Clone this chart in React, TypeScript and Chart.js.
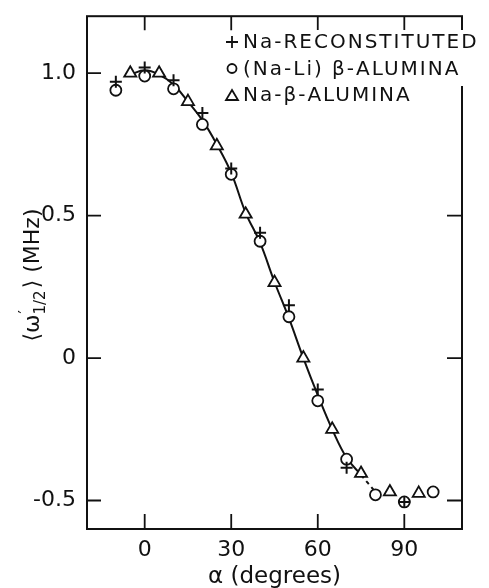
import React, { useEffect, useRef } from 'react';
import { Chart, registerables } from 'chart.js';

Chart.register(...registerables);

// ---- data ----
const plusX = [-10, 0, 10, 20, 30, 40, 50, 60, 70, 90];
const plusY = [0.97, 1.02, 0.975, 0.86, 0.665, 0.44, 0.185, -0.11, -0.385, -0.505];

const circleX = [-10, 0, 10, 20, 30, 40, 50, 60, 70, 80, 90, 100];
const circleY = [0.94, 0.99, 0.945, 0.82, 0.645, 0.41, 0.145, -0.15, -0.355, -0.48, -0.505, -0.47];

const triX = [-5, 5, 15, 25, 35, 45, 55, 65, 75, 85, 95];
const triY = [1.0, 1.0, 0.9, 0.745, 0.505, 0.265, 0.0, -0.25, -0.405, -0.47, -0.475];

const curveX = [-5, 0, 5, 10, 15, 20, 25, 30, 35, 40, 45, 50, 55, 60, 65, 70, 75, 80];
const curveY = [0.995, 1.01, 0.995, 0.96, 0.9, 0.835, 0.75, 0.65, 0.51, 0.405, 0.267, 0.14, 0.0, -0.13, -0.25, -0.35, -0.41, -0.47];
const dashedFrom = 75;

const xTicks = [0, 30, 60, 90];
const yTicks = [-0.5, 0, 0.5, 1.0];
const xTitle = 'α (degrees)';
const legendLabels = ['Na-RECONSTITUTED', '(Na-Li) β-ALUMINA', 'Na-β-ALUMINA'];

const FONT = '"DejaVu Sans", "Liberation Sans", sans-serif';
const INK = '#111';

const pts = (xs: number[], ys: number[]) => xs.map((x, i) => ({ x, y: ys[i] }));

const framePlugin = {
  id: 'frame',
  beforeDatasetsDraw(chart: any) {
    const { ctx, chartArea: a, scales } = chart;
    const x = scales.x;
    const y = scales.y;
    ctx.save();
    ctx.strokeStyle = INK;
    ctx.lineWidth = 2;
    ctx.strokeRect(a.left, a.top, a.right - a.left, a.bottom - a.top);
    ctx.lineWidth = 1.8;
    ctx.beginPath();
    xTicks.forEach((v) => {
      const px = x.getPixelForValue(v);
      ctx.moveTo(px, a.bottom);
      ctx.lineTo(px, a.bottom - 15);
      ctx.moveTo(px, a.top);
      ctx.lineTo(px, a.top + 14);
    });
    yTicks.forEach((v) => {
      const py = y.getPixelForValue(v);
      ctx.moveTo(a.left, py);
      ctx.lineTo(a.left + 14, py);
      ctx.moveTo(a.right, py);
      ctx.lineTo(a.right - 15, py);
    });
    ctx.stroke();

    // x title
    ctx.fillStyle = INK;
    ctx.font = `23px ${FONT}`;
    ctx.textAlign = 'center';
    ctx.textBaseline = 'middle';
    ctx.fillText(xTitle, (a.left + a.right) / 2, 577);

    // y title  <ω'_{1/2}> (MHz)
    ctx.save();
    ctx.translate(31, 275);
    ctx.rotate(-Math.PI / 2);
    const main = `22px ${FONT}`;
    const small = `15px ${FONT}`;
    ctx.textAlign = 'left';
    ctx.textBaseline = 'alphabetic';
    ctx.font = main;
    const w1 = ctx.measureText('⟨ω').width;
    const w3 = ctx.measureText('⟩ (MHz)').width;
    ctx.font = small;
    const w2 = Math.max(ctx.measureText('1/2').width, ctx.measureText('′').width);
    const x0 = -(w1 + w2 + w3 + 2) / 2;
    const base = 8;
    ctx.font = main;
    ctx.fillText('⟨ω', x0, base);
    ctx.font = small;
    ctx.fillText('′', x0 + w1 + 1, base - 9);
    ctx.fillText('1/2', x0 + w1, base + 6);
    ctx.font = main;
    ctx.fillText('⟩ (MHz)', x0 + w1 + w2 + 2, base);
    ctx.restore();

    ctx.restore();
  },
};

const legendPlugin = {
  id: 'customLegend',
  afterDraw(chart: any) {
    const { ctx } = chart;
    const symX = 232;
    const textX = 243;
    const top = 42;
    const gap = 26.5;
    ctx.save();
    ctx.fillStyle = '#fff';
    ctx.fillRect(textX - 2, 30, 245, 56);
    ctx.strokeStyle = INK;
    ctx.fillStyle = INK;
    ctx.lineWidth = 1.8;
    // plus
    let cy = top;
    ctx.beginPath();
    ctx.moveTo(symX - 6, cy);
    ctx.lineTo(symX + 6, cy);
    ctx.moveTo(symX, cy - 6);
    ctx.lineTo(symX, cy + 6);
    ctx.stroke();
    // circle
    cy = top + gap;
    ctx.beginPath();
    ctx.arc(symX, cy, 4.5, 0, Math.PI * 2);
    ctx.stroke();
    // triangle
    cy = top + 2 * gap;
    ctx.beginPath();
    ctx.moveTo(symX, cy - 5);
    ctx.lineTo(symX + 6, cy + 5);
    ctx.lineTo(symX - 6, cy + 5);
    ctx.closePath();
    ctx.stroke();

    ctx.font = `20px ${FONT}`;
    ctx.textAlign = 'left';
    ctx.textBaseline = 'middle';
    (ctx as any).letterSpacing = '2px';
    legendLabels.forEach((t, i) => {
      ctx.fillText(t, textX, top + i * gap + 1);
    });
    (ctx as any).letterSpacing = '0px';
    ctx.restore();
  },
};

export default function App() {
  const ref = useRef<HTMLCanvasElement | null>(null);

  useEffect(() => {
    document.body.style.margin = '0';
    document.body.style.background = '#fff';
    const canvas = ref.current;
    if (!canvas) return;
    const chart = new Chart(canvas, {
      type: 'scatter',
      data: {
        datasets: [
          {
            type: 'line',
            label: 'curve',
            data: pts(curveX, curveY),
            borderColor: INK,
            borderWidth: 2,
            pointRadius: 0,
            fill: false,
            tension: 0.4,
            order: 10,
            segment: {
              borderDash: (c: any) => (c.p0.parsed.x >= dashedFrom ? [4, 4] : undefined),
            },
          } as any,
          {
            label: legendLabels[0],
            data: pts(plusX, plusY),
            pointStyle: 'cross',
            pointRadius: 6,
            borderColor: INK,
            borderWidth: 2,
            order: 1,
          },
          {
            label: legendLabels[1],
            data: pts(circleX, circleY),
            pointStyle: 'circle',
            pointRadius: 5.5,
            backgroundColor: '#fff',
            borderColor: INK,
            borderWidth: 1.8,
            order: 2,
          },
          {
            label: legendLabels[2],
            data: pts(triX, triY),
            pointStyle: 'triangle',
            pointRadius: 7,
            backgroundColor: '#fff',
            borderColor: INK,
            borderWidth: 1.8,
            order: 0,
          },
        ],
      },
      options: {
        responsive: false,
        animation: false,
        events: [],
        layout: { padding: { top: 12, right: 27, left: 0, bottom: 0 } },
        plugins: { legend: { display: false }, tooltip: { enabled: false } },
        scales: {
          x: {
            type: 'linear',
            min: -20,
            max: 110,
            afterBuildTicks: (s: any) => {
              s.ticks = xTicks.map((v) => ({ value: v }));
            },
            afterFit: (s: any) => {
              s.height = 59;
            },
            grid: { display: false },
            border: { display: false },
            ticks: {
              font: { family: FONT, size: 22 },
              color: INK,
              padding: 0,
              maxRotation: 0,
              autoSkip: false,
              callback: (v: any) => String(v),
            },
          },
          y: {
            type: 'linear',
            min: -0.6,
            max: 1.2,
            afterBuildTicks: (s: any) => {
              s.ticks = yTicks.map((v) => ({ value: v }));
            },
            afterFit: (s: any) => {
              s.width = 87;
            },
            grid: { display: false },
            border: { display: false },
            ticks: {
              font: { family: FONT, size: 22 },
              color: INK,
              padding: 3,
              autoSkip: false,
              callback: (v: any) => (Number(v) === 0 ? '0' : Number(v).toFixed(1)),
            },
          },
        },
      },
      plugins: [framePlugin, legendPlugin],
    });
    return () => chart.destroy();
  }, []);

  return <canvas ref={ref} width={489} height={588} style={{ display: 'block' }} />;
}
